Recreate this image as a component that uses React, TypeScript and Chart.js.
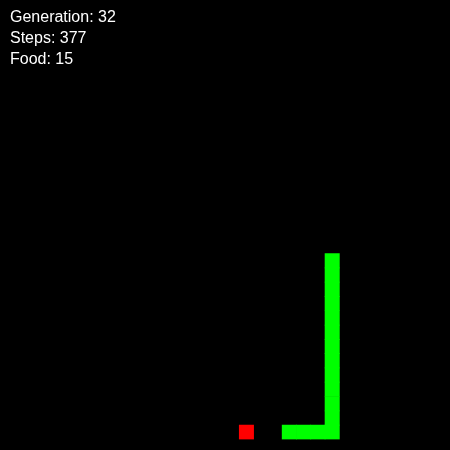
import React, { useEffect, useRef } from "react";
import { Chart, registerables } from "chart.js";
Chart.register(...registerables);

const GRID = 30;
const snakeCols = [22, 22, 22, 22, 22, 22, 22, 22, 22, 22, 22, 22, 22, 21, 20, 19];
const snakeRows = [17, 18, 19, 20, 21, 22, 23, 24, 25, 26, 27, 28, 29, 29, 29, 29];
const foodCols = [16];
const foodRows = [29];
const statLabels = ["Generation: 32", "Steps: 377", "Food: 15"];

export default function App() {
  const ref = useRef<HTMLCanvasElement>(null);
  useEffect(() => {
    document.body.style.margin = "0";
    const cell = 450 / GRID;
    const r = cell / Math.SQRT2;
    const bg = {
      id: "bg",
      beforeDraw(c: any) {
        const ctx = c.ctx;
        ctx.save();
        ctx.fillStyle = "#000";
        ctx.fillRect(0, 0, c.width, c.height);
        ctx.restore();
      },
      afterDraw(c: any) {
        const ctx = c.ctx;
        ctx.save();
        ctx.fillStyle = "#fff";
        ctx.font = "16px 'Liberation Sans', Arial, sans-serif";
        ctx.textBaseline = "middle";
        statLabels.forEach((t, i) => ctx.fillText(t, 10, 18 + i * 21));
        ctx.restore();
      },
    };
    const chart = new Chart(ref.current!, {
      type: "scatter",
      data: {
        datasets: [
          {
            data: snakeCols.map((c, i) => ({ x: c + 0.5, y: snakeRows[i] + 0.5 })),
            pointStyle: "rect",
            pointRadius: r,
            pointHoverRadius: r,
            borderWidth: 0,
            backgroundColor: "#00ff00",
          },
          {
            data: foodCols.map((c, i) => ({ x: c + 0.5, y: foodRows[i] + 0.5 })),
            pointStyle: "rect",
            pointRadius: r,
            pointHoverRadius: r,
            borderWidth: 0,
            backgroundColor: "#ff0000",
          },
        ],
      },
      options: {
        animation: false,
        responsive: false,
        events: [],
        layout: { padding: 0 },
        plugins: { legend: { display: false }, tooltip: { enabled: false } },
        scales: {
          x: { type: "linear", min: 0, max: GRID, display: false },
          y: { type: "linear", min: 0, max: GRID, reverse: true, display: false },
        },
      },
      plugins: [bg],
    });
    return () => chart.destroy();
  }, []);
  return <canvas ref={ref} width={450} height={450} style={{ display: "block" }} />;
}
